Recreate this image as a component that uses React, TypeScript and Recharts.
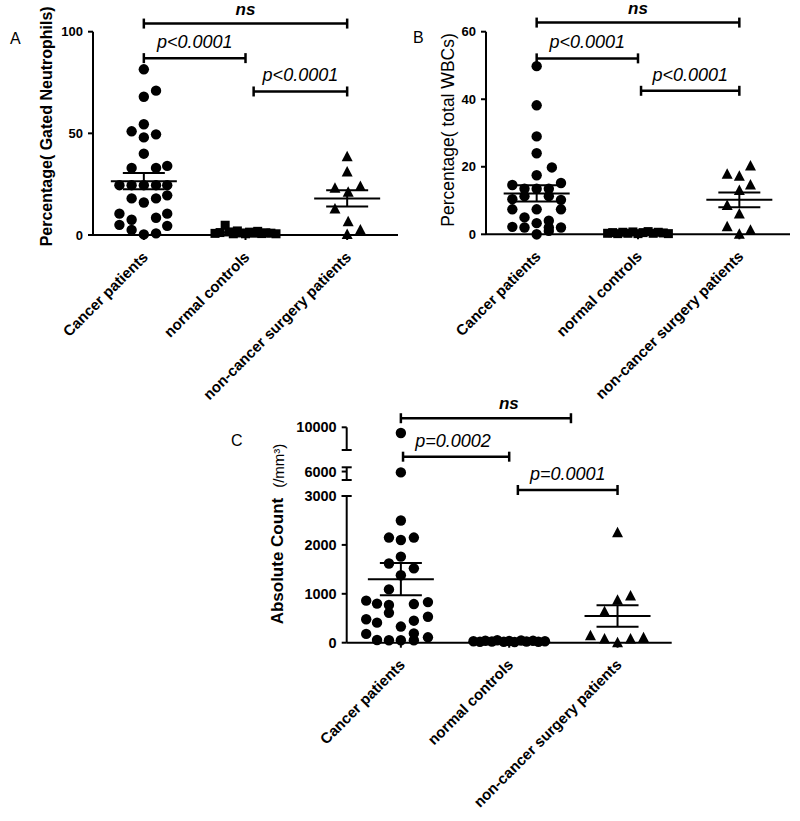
import { ScatterChart, Scatter, XAxis, YAxis, ReferenceLine } from 'recharts';

const categories = ['Cancer patients', 'normal controls', 'non-cancer surgery patients'];

// each point: [offset from the group centre, value]
const aCancer = [
  [0, 81.5], [0, 68], [0.12, 71], [-0.12, 51], [0, 54.5], [0, 48], [0.12, 49.5], [0, 40],
  [-0.12, 33], [0.12, 33], [0.23, 34], [-0.24, 24.5], [-0.12, 24.5], [0, 24.5], [0.12, 24.5],
  [0.23, 24.5], [-0.12, 18], [0, 16], [0.12, 18], [0.23, 19.5], [-0.24, 10.5], [-0.12, 7.5],
  [0.12, 8.5], [0.23, 10.5], [-0.24, 5], [-0.12, 2.5], [0.23, 4.5], [0, 0.3], [0.12, 0.8],
];
const aNormal = [
  [-0.3, 0.8], [-0.25, 1.2], [-0.2, 4.8], [-0.16, 1.5], [-0.12, 0.6], [-0.08, 2], [-0.04, 1],
  [0, 0.6], [0.04, 1.4], [0.08, 0.9], [0.12, 1.8], [0.16, 0.7], [0.2, 1.1], [0.25, 0.9], [0.3, 0.6],
];
const aOther = [
  [0, 38.5], [0, 31], [-0.12, 23], [0.13, 23.8], [0.01, 21], [-0.12, 12.8], [0.01, 6.5], [0.13, 2.5], [0, 0.3],
];
const aMean = [26.5, 1.2, 18];
const aSem = [4, 0.3, 4];

const bCancer = [
  [0, 49.8], [0, 38.2], [0, 29], [0, 24], [0.15, 19.8], [0, 17.5], [-0.24, 14.6], [-0.12, 13.5],
  [0, 13.5], [0.12, 13.5], [0.24, 15.2], [-0.24, 10.4], [-0.12, 11.3], [0.12, 11.3], [0.24, 10.2],
  [-0.24, 7.4], [0, 7.4], [0.24, 7.4], [-0.12, 5], [0.12, 4], [-0.24, 2.2], [-0.12, 2], [0, 3.3],
  [0.12, 2], [0.24, 2], [0, 0], [0.12, 1],
];
const bNormal = [
  [-0.3, 0.3], [-0.25, 0.5], [-0.2, 0.2], [-0.15, 0.6], [-0.1, 0.3], [-0.05, 0.7], [0, 0.2],
  [0.05, 0.5], [0.1, 0.8], [0.15, 0.3], [0.2, 0.6], [0.25, 0.4], [0.3, 0.2],
];
const bOther = [
  [0.11, 20.2], [-0.12, 17.8], [0, 17.2], [0.11, 14.6], [0, 13], [-0.12, 8.5], [0, 6], [-0.12, 2.2], [0.11, 1.2], [0, 0],
];
const bMean = [12.1, 0.3, 10.2];
const bSem = [2.4, 0.1, 2.2];

const cCancer = [
  [0, 9500], [0, 5900], [0, 2500], [-0.11, 2150], [0, 2100], [0.12, 2150], [0, 1760], [-0.11, 1620],
  [0.12, 1520], [0, 1380], [-0.11, 1090], [-0.32, 860], [-0.22, 800], [-0.11, 770], [0.12, 790],
  [0.25, 830], [-0.11, 610], [-0.32, 480], [-0.22, 410], [0, 330], [0.12, 450], [0.25, 530],
  [-0.32, 180], [0.12, 190], [-0.22, 55], [-0.11, 50], [0, 50], [0.12, 50], [0.25, 110],
];
const cNormal = [
  [-0.33, 30], [-0.27, 20], [-0.22, 40], [-0.16, 25], [-0.11, 50], [-0.05, 20], [0, 35],
  [0.05, 15], [0.11, 45], [0.16, 25], [0.22, 40], [0.27, 20], [0.33, 30],
];
const cOther = [
  [0, 2250], [0.12, 955], [0, 870], [-0.12, 635], [-0.25, 140], [-0.12, 75], [0, 0], [0.12, 75], [0.24, 100],
];
const cMean = [1300, 20, 546];
const cSem = [330, 5, 220];

const aTicks = [0, 50, 100];
const bTicks = [0, 20, 40, 60];
const cTicks = [0, 1000, 2000, 3000, 6000, 10000];

// broken axis of panel C: value -> plotted height
const cKnots = [[0, 0], [3000, 3000], [5000, 3327], [6500, 3587], [8000, 3941], [10000, 4405]];
const cPieces = [[0, 3000], [5000, 6500], [8000, 10000]];

// brackets: from group, to group, height, text, where the text sits along the bar
const aBrackets = [
  { from: 1, to: 3, y: 104, text: 'ns', at: 0.5 },
  { from: 1, to: 2, y: 87, text: 'p<0.0001', at: 0.5 },
  { from: 2.08, to: 3, y: 70.6, text: 'p<0.0001', at: 0.5 },
];
const bBrackets = [
  { from: 1, to: 3, y: 62.7, text: 'ns', at: 0.5 },
  { from: 1, to: 2, y: 52.1, text: 'p<0.0001', at: 0.5 },
  { from: 2.03, to: 3, y: 42.5, text: 'p<0.0001', at: 0.5 },
];
const cBrackets = [
  { from: 1, to: 2.57, y: 10800, text: 'ns', at: 0.635 },
  { from: 1.02, to: 2, y: 7420, text: 'p=0.0002', at: 0.47 },
  { from: 2.08, to: 3, y: 3750, text: 'p=0.0001', at: 0.5 },
];

const toC = (v: number) => {
  let i = 1;
  while (i < cKnots.length - 1 && v > cKnots[i][0]) i++;
  const [v0, d0] = cKnots[i - 1];
  const [v1, d1] = cKnots[i];
  return d0 + ((v - v0) / (v1 - v0)) * (d1 - d0);
};
const same = (v: number) => v;

const toPoints = (list: number[][], cat: number, f: (v: number) => number) =>
  list.map(([dx, v]) => ({ x: cat + dx, y: f(v) }));

const Dot = (p: any) => <circle cx={p.cx} cy={p.cy} r={5.2} fill="#000" />;
const Square = (p: any) => <rect x={p.cx - 4.5} y={p.cy - 4.5} width={9} height={9} fill="#000" />;
const Tri = (p: any) => (
  <polygon points={`${p.cx},${p.cy - 6} ${p.cx - 5.5},${p.cy + 4.5} ${p.cx + 5.5},${p.cy + 4.5}`} fill="#000" />
);

const CatTick = (props: any) => {
  const { x, y, payload } = props;
  return (
    <g transform={`translate(${x + 5},${y + 16})`}>
      <text transform="rotate(-45)" textAnchor="end" fontSize={15} fontWeight="bold" fill="#000">
        {categories[payload.value - 1]}
      </text>
    </g>
  );
};

const bracketShape = (text: string, at: number) => (p: any) => {
  const bold = text === 'ns';
  return (
    <g>
      <line x1={p.x1} y1={p.y1} x2={p.x2} y2={p.y2} stroke="#000" strokeWidth={2.5} />
      <line x1={p.x1} y1={p.y1 - 5} x2={p.x1} y2={p.y1 + 5} stroke="#000" strokeWidth={2.5} />
      <line x1={p.x2} y1={p.y2 - 5} x2={p.x2} y2={p.y2 + 5} stroke="#000" strokeWidth={2.5} />
      <text
        x={p.x1 + (p.x2 - p.x1) * at}
        y={p.y1 - (bold ? 9 : 10)}
        textAnchor="middle"
        fontSize={bold ? 17 : 18}
        fontStyle="italic"
        fontWeight={bold ? 'bold' : 'normal'}
        fill="#000"
      >
        {text}
      </text>
    </g>
  );
};

// vertical SEM bar from mean-sem to mean+sem, mean line through its middle
const meanShape = (p: any) => {
  const my = (p.y1 + p.y2) / 2;
  return (
    <g stroke="#000" strokeWidth={2}>
      <line x1={p.x1} y1={p.y1} x2={p.x2} y2={p.y2} />
      <line x1={p.x1 - 21} y1={p.y1} x2={p.x1 + 21} y2={p.y1} />
      <line x1={p.x1 - 21} y1={p.y2} x2={p.x1 + 21} y2={p.y2} />
      <line x1={p.x1 - 33} y1={my} x2={p.x1 + 33} y2={my} />
    </g>
  );
};

const pieceShape = (capLo: boolean, capHi: boolean) => (p: any) => (
  <g stroke="#000" strokeWidth={2}>
    <line x1={p.x1} y1={p.y1} x2={p.x2} y2={p.y2} />
    {capLo && <line x1={p.x1 - 5} y1={p.y1} x2={p.x1 + 5} y2={p.y1} />}
    {capHi && <line x1={p.x2 - 5} y1={p.y2} x2={p.x2 + 5} y2={p.y2} />}
  </g>
);

type LabelOpts = { off: number; dy: number; text: string; size: number; bold: boolean; unit?: string };

const yLabel = ({ off, dy, text, size, bold, unit }: LabelOpts) => (props: any) => {
  const vb = props.viewBox;
  const x = vb.x + vb.width - off;
  const y = vb.y + vb.height / 2 + dy;
  return (
    <text
      x={x}
      y={y}
      transform={`rotate(-90 ${x} ${y})`}
      textAnchor="middle"
      dominantBaseline="central"
      fontSize={size}
      fontWeight={bold ? 'bold' : 'normal'}
      fill="#000"
    >
      {text}
      {unit && (
        <tspan dx={10} fontSize={15} fontWeight="normal">
          {unit}
        </tspan>
      )}
    </text>
  );
};

const axisStyle = { stroke: '#000', strokeWidth: 2 };
const Y_W = 30;
const X_H = 30;

type PanelProps = {
  width: number;
  height: number;
  margin: { top: number; right: number; bottom: number; left: number };
  groups: number[][][];
  means: number[];
  sems: number[];
  brackets: { from: number; to: number; y: number; text: string; at: number }[];
  ticks: number[];
  tickSize: number;
  f: (v: number) => number;
  label: any;
  broken?: boolean;
};

const Panel = (props: PanelProps) => {
  const { width, height, margin, groups, means, sems, brackets, ticks, tickSize, f, label, broken } = props;
  const shapes = [Dot, broken ? Dot : Square, Tri];
  const top = f(ticks[ticks.length - 1]);
  const m = { top: margin.top, right: margin.right, left: margin.left - Y_W, bottom: margin.bottom - X_H };
  return (
    <ScatterChart width={width} height={height} margin={m}>
      <XAxis
        type="number"
        dataKey="x"
        domain={[0.5, 3.5]}
        ticks={[1, 2, 3]}
        interval={0}
        height={X_H}
        axisLine={axisStyle}
        tickLine={axisStyle}
        tickSize={5}
        tick={<CatTick />}
      />
      <YAxis
        type="number"
        dataKey="y"
        domain={[0, top]}
        ticks={ticks.map(f)}
        interval={0}
        width={Y_W}
        axisLine={broken ? false : axisStyle}
        tickLine={axisStyle}
        tickSize={5}
        tickMargin={5}
        tick={{ fill: '#000', fontSize: tickSize, fontWeight: 'bold' }}
        tickFormatter={(d: number) => {
          const i = ticks.map(f).findIndex((t) => Math.abs(t - d) < 1e-6);
          return i >= 0 ? String(ticks[i]) : '';
        }}
        label={label}
      />
      {broken &&
        cPieces.map(([lo, hi], i) => (
          <ReferenceLine
            key={`piece-${i}`}
            segment={[{ x: 0.5, y: f(lo) }, { x: 0.5, y: f(hi) }]}
            ifOverflow="visible"
            shape={pieceShape(lo !== 0, hi !== 10000)}
          />
        ))}
      {groups.map((g, i) => (
        <Scatter
          key={`g-${i}`}
          data={toPoints(g, i + 1, f)}
          shape={shapes[i]}
          isAnimationActive={false}
        />
      ))}
      {means.map((mv, i) => (
        <ReferenceLine
          key={`m-${i}`}
          segment={[{ x: i + 1, y: f(mv - sems[i]) }, { x: i + 1, y: f(mv + sems[i]) }]}
          ifOverflow="visible"
          shape={meanShape}
        />
      ))}
      {brackets.map((b, i) => (
        <ReferenceLine
          key={`b-${i}`}
          segment={[{ x: b.from, y: f(b.y) }, { x: b.to, y: f(b.y) }]}
          ifOverflow="visible"
          shape={bracketShape(b.text, b.at)}
        />
      ))}
    </ScatterChart>
  );
};

const letter = (text: string, left: number, top: number) => (
  <div style={{ position: 'absolute', left, top, fontSize: 16, lineHeight: '16px', color: '#000' }}>{text}</div>
);

export default function App() {
  return (
    <div
      style={{
        position: 'absolute',
        left: 0,
        top: 0,
        width: 800,
        height: 821,
        background: '#fff',
        fontFamily: '"Liberation Sans", Arial, sans-serif',
      }}
    >
      <div style={{ position: 'absolute', left: 0, top: 0 }}>
        <Panel
          width={400}
          height={420}
          margin={{ top: 31.7, right: 2, bottom: 185, left: 93 }}
          groups={[aCancer, aNormal, aOther]}
          means={aMean}
          sems={aSem}
          brackets={aBrackets}
          ticks={aTicks}
          tickSize={13}
          f={same}
          label={yLabel({ off: 46, dy: -7, text: 'Percentage( Gated Neutrophils)', size: 16, bold: true })}
        />
      </div>
      <div style={{ position: 'absolute', left: 400, top: 0 }}>
        <Panel
          width={400}
          height={420}
          margin={{ top: 31.7, right: 10, bottom: 185.7, left: 86 }}
          groups={[bCancer, bNormal, bOther]}
          means={bMean}
          sems={bSem}
          brackets={bBrackets}
          ticks={bTicks}
          tickSize={13}
          f={same}
          label={yLabel({ off: 38, dy: -3, text: 'Percentage( total WBCs)', size: 17.5, bold: false })}
        />
      </div>
      <div style={{ position: 'absolute', left: 160, top: 380 }}>
        <Panel
          width={520}
          height={441}
          margin={{ top: 47.3, right: 8.3, bottom: 178.3, left: 186.7 }}
          groups={[cCancer, cNormal, cOther]}
          means={cMean}
          sems={cSem}
          brackets={cBrackets}
          ticks={cTicks}
          tickSize={14.5}
          f={toC}
          label={yLabel({ off: 69, dy: -1, text: 'Absolute Count', size: 17, bold: true, unit: '(/mm³)' })}
          broken
        />
      </div>
      {letter('A', 10, 31)}
      {letter('B', 413, 30)}
      {letter('C', 231, 433)}
    </div>
  );
}
